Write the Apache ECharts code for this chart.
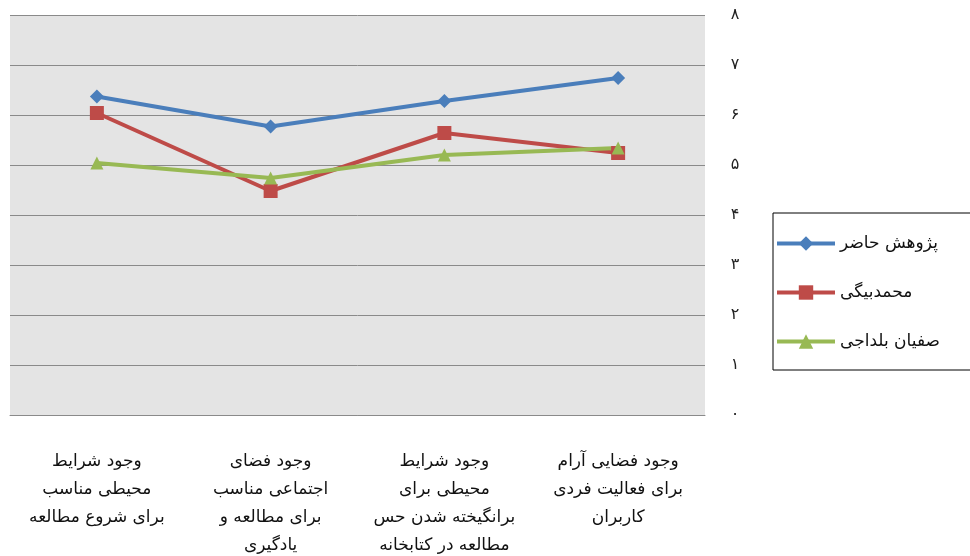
<!DOCTYPE html>
<html><head><meta charset="utf-8">
<script src="https://cdn.jsdelivr.net/npm/echarts@6/dist/echarts.min.js"></script>
<style>html,body{margin:0;padding:0;background:#fff}#c{width:970px;height:556px}</style>
</head><body><div id="c"></div>
<script>
// categories listed from right (first) to left
const categories = [
  "وجود فضایی آرام\nبرای فعالیت فردی\nکاربران",
  "وجود شرایط\nمحیطی برای\nبرانگیخته شدن حس\nمطالعه در کتابخانه",
  "وجود فضای\nاجتماعی مناسب\nبرای مطالعه و\nیادگیری",
  "وجود شرایط\nمحیطی مناسب\nبرای شروع مطالعه"
];
const seriesNames = ["پژوهش حاضر", "محمدبیگی", "صفیان بلداجی"];
const valuesCurrent = [6.74, 6.28, 5.77, 6.37];
const valuesMohammadbeigi = [5.24, 5.64, 4.48, 6.04];
const valuesSafian = [5.34, 5.2, 4.74, 5.04];
const yTickLabels = ["۰","۱","۲","۳","۴","۵","۶","۷","۸"];

const colors = ["#4a7ebb", "#be4b48", "#98b954"];
const symbols = ["diamond", "rect", "triangle"];
const symbolSizes = [14, 14, 13];
const allValues = [valuesCurrent, valuesMohammadbeigi, valuesSafian];

const chart = echarts.init(document.getElementById('c'));
chart.setOption({
  animation: false,
  textStyle: {fontFamily: 'DejaVu Sans'},
  grid: {left: 10, right: 265, top: 15, bottom: 141, show: true, backgroundColor: '#e4e4e4', borderWidth: 0,
    containLabel: false, outerBoundsMode: 'none'},
  xAxis: {
    type: 'category', data: categories, inverse: true, boundaryGap: true,
    axisLine: {show: true, lineStyle: {color: '#8a8a8a', width: 1}},
    axisTick: {show: false},
    axisLabel: {color: '#111', fontSize: 17, lineHeight: 28, margin: 33, interval: 0, fontFamily: 'DejaVu Sans'}
  },
  yAxis: {
    type: 'value', position: 'right', min: 0, max: 8, interval: 1,
    axisLine: {show: false}, axisTick: {show: false},
    splitLine: {lineStyle: {color: '#8a8a8a', width: 1}},
    axisLabel: {color: '#222', fontSize: 16, margin: 30, align: 'center',
      formatter: v => yTickLabels[Math.round(v)]}
  },
  legend: {
    orient: 'vertical', left: 773, top: 213,
    padding: [22, 200, 20, 2], itemGap: 32, itemWidth: 58, itemHeight: 18,
    borderColor: '#000', borderWidth: 1, backgroundColor: '#fff',
    lineStyle: {width: 4},
    textStyle: {fontSize: 17, color: '#111', fontFamily: 'DejaVu Sans'},
    data: seriesNames
  },
  series: seriesNames.map((n, i) => ({
    name: n, type: 'line', data: allValues[i],
    symbol: symbols[i], symbolSize: symbolSizes[i],
    lineStyle: {color: colors[i], width: 4},
    itemStyle: {color: colors[i]}
  }))
});
</script></body></html>
